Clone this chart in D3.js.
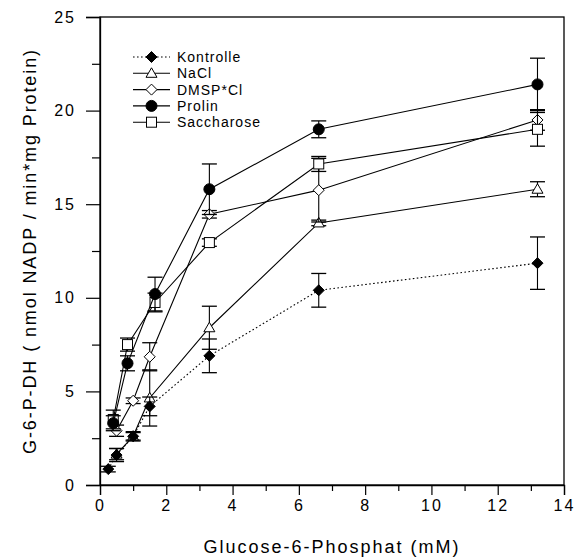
<!DOCTYPE html>
<html>
<head>
<meta charset="utf-8">
<script src="https://cdn.jsdelivr.net/npm/d3@7"></script>
<style>
  body { margin: 0; background: #fff; }
  svg { display: block; }
  text { font-family: "Liberation Sans", Arial, sans-serif; fill: #000; }
</style>
</head>
<body>
<svg id="chart" width="576" height="560"></svg>
<script>
// ---- data ----
const seriesNames = ["Kontrolle", "NaCl", "DMSP*Cl", "Prolin", "Saccharose"];

const kontrolleX   = [0.25, 0.5, 1.0, 1.5, 3.3, 6.6, 13.2];
const kontrolleY   = [0.85, 1.6, 2.6, 4.2, 6.9, 10.4, 11.85];
const kontrolleErr = [0.15, 0.35, 0.2, 0.5, 0.9, 0.9, 1.4];

const naclX   = [0.5, 1.0, 1.5, 3.3, 6.6, 13.2];
const naclY   = [1.65, 2.6, 4.65, 8.4, 14.0, 15.8];
const naclErr = [0.3, 0.25, 1.5, 1.15, 0.15, 0.4];

const dmspX   = [0.5, 1.0, 1.5, 3.3, 6.6, 13.2];
const dmspY   = [2.9, 4.5, 6.85, 14.46, 15.75, 19.5];
const dmspErr = [0.3, 0.15, 0.75, 0.2, 1.7, 0.55];

const prolinX   = [0.4, 0.83, 1.66, 3.3, 6.6, 13.2];
const prolinY   = [3.3, 6.5, 10.2, 15.8, 19.0, 21.4];
const prolinErr = [0.4, 0.4, 0.9, 1.35, 0.45, 1.4];

const saccX   = [0.4, 0.83, 1.66, 3.3, 6.6, 13.2];
const saccY   = [3.5, 7.5, 9.75, 12.95, 17.15, 19.0];
const saccErr = [0.5, 0.35, 0.5, 0.2, 0.4, 0.9];

const xTicks = [0, 2, 4, 6, 8, 10, 12, 14];
const yTicks = [0, 5, 10, 15, 20, 25];
const xLabel = "Glucose-6-Phosphat (mM)";
const yLabel = "G-6-P-DH ( nmol NADP / min*mg Protein)";

// ---- build ----
function pts(xs, ys, es) { return xs.map((x, i) => ({ x, y: ys[i], e: es[i] })); }
const series = [
  { name: seriesNames[1], marker: "triangle", dash: null, data: pts(naclX, naclY, naclErr) },
  { name: seriesNames[2], marker: "diamondOpen", dash: null, data: pts(dmspX, dmspY, dmspErr) },
  { name: seriesNames[4], marker: "square", dash: null, data: pts(saccX, saccY, saccErr) },
  { name: seriesNames[3], marker: "circle", dash: null, data: pts(prolinX, prolinY, prolinErr) },
  { name: seriesNames[0], marker: "diamondFilled", dash: "1.6,2.4", data: pts(kontrolleX, kontrolleY, kontrolleErr) }
];
const legendOrder = [
  { name: seriesNames[0], marker: "diamondFilled", dash: "1.6,2.4" },
  { name: seriesNames[1], marker: "triangle", dash: null },
  { name: seriesNames[2], marker: "diamondOpen", dash: null },
  { name: seriesNames[3], marker: "circle", dash: null },
  { name: seriesNames[4], marker: "square", dash: null }
];

const svg = d3.select("#chart");
const L = 100, R = 564, T = 17, B = 485;
const x = d3.scaleLinear().domain([0, 14]).range([L, R]);
const y = d3.scaleLinear().domain([0, 25]).range([B, T]);

// frame
svg.append("rect").attr("x", L).attr("y", T).attr("width", R - L).attr("height", B - T)
  .attr("fill", "none").attr("stroke", "#000").attr("stroke-width", 1.3);

// axes
svg.append("g").attr("transform", `translate(0,${B})`)
  .call(d3.axisBottom(x).tickValues(xTicks).tickFormat(d3.format("d")).tickSize(10).tickPadding(5));
svg.append("g").attr("transform", `translate(0,${B})`)
  .call(d3.axisBottom(x).tickValues(d3.range(1, 14, 2)).tickFormat("").tickSize(6))
  .select(".domain").remove();
svg.append("g").attr("transform", `translate(${L},0)`)
  .call(d3.axisLeft(y).tickValues(yTicks).tickFormat(d3.format("d")).tickSize(14).tickPadding(10));
svg.append("g").attr("transform", `translate(${L},0)`)
  .call(d3.axisLeft(y).tickValues(d3.range(2.5, 25, 5)).tickFormat("").tickSize(8))
  .select(".domain").remove();
svg.selectAll(".domain").attr("stroke", "#000").attr("stroke-width", 1.3);
svg.selectAll(".tick line").attr("stroke", "#000").attr("stroke-width", 1.2);
svg.selectAll(".tick text").attr("font-size", 16).attr("letter-spacing", 2)
  .attr("font-family", "Liberation Sans, Arial, sans-serif").attr("fill", "#000");

// axis titles
svg.append("text").attr("x", (L + R) / 2).attr("y", 553).attr("text-anchor", "middle")
  .attr("font-size", 18).attr("letter-spacing", 2).text(xLabel);
svg.append("text").attr("transform", `translate(36,${(T + B) / 2}) rotate(-90)`)
  .attr("text-anchor", "middle").attr("font-size", 18).attr("letter-spacing", 1.9).text(yLabel);

// markers
function drawMarker(g, type) {
  if (type === "diamondFilled" || type === "diamondOpen") {
    g.append("path").attr("d", "M0,-5.5L5.5,0L0,5.5L-5.5,0Z")
      .attr("fill", type === "diamondFilled" ? "#000" : "#fff").attr("stroke", "#000").attr("stroke-width", 1);
  } else if (type === "circle") {
    g.append("circle").attr("r", 5.5).attr("fill", "#000").attr("stroke", "#000");
  } else if (type === "square") {
    g.append("rect").attr("x", -5).attr("y", -5).attr("width", 10).attr("height", 10)
      .attr("fill", "#fff").attr("stroke", "#000").attr("stroke-width", 1);
  } else if (type === "triangle") {
    g.append("path").attr("d", "M0,-5.5L5.5,4L-5.5,4Z")
      .attr("fill", "#fff").attr("stroke", "#000").attr("stroke-width", 1);
  }
}

const line = d3.line().x(d => x(d.x)).y(d => y(d.y));

series.forEach(s => {
  const g = svg.append("g");
  s.data.forEach(d => {
    g.append("line").attr("x1", x(d.x)).attr("x2", x(d.x)).attr("y1", y(d.y - d.e)).attr("y2", y(d.y + d.e))
      .attr("stroke", "#000").attr("stroke-width", 1.1);
    [d.y - d.e, d.y + d.e].forEach(v => {
      g.append("line").attr("x1", x(d.x) - 7.5).attr("x2", x(d.x) + 7.5).attr("y1", y(v)).attr("y2", y(v))
        .attr("stroke", "#000").attr("stroke-width", 1.3);
    });
  });
  g.append("path").datum(s.data).attr("d", line).attr("fill", "none").attr("stroke", "#000")
    .attr("stroke-width", 1.1).attr("stroke-dasharray", s.dash);
  s.data.forEach(d => {
    const m = g.append("g").attr("transform", `translate(${x(d.x)},${y(d.y)})`);
    drawMarker(m, s.marker);
  });
});

// legend
const leg = svg.append("g");
legendOrder.forEach((s, i) => {
  const ly = 57 + i * 16.3;
  leg.append("line").attr("x1", 133).attr("x2", 170).attr("y1", ly).attr("y2", ly)
    .attr("stroke", "#000").attr("stroke-width", 1.1).attr("stroke-dasharray", s.dash);
  const m = leg.append("g").attr("transform", `translate(151.5,${ly})`);
  drawMarker(m, s.marker);
  leg.append("text").attr("x", 177).attr("y", ly + 5).attr("font-size", 14).attr("letter-spacing", 1).text(s.name);
});
</script>
</body>
</html>
